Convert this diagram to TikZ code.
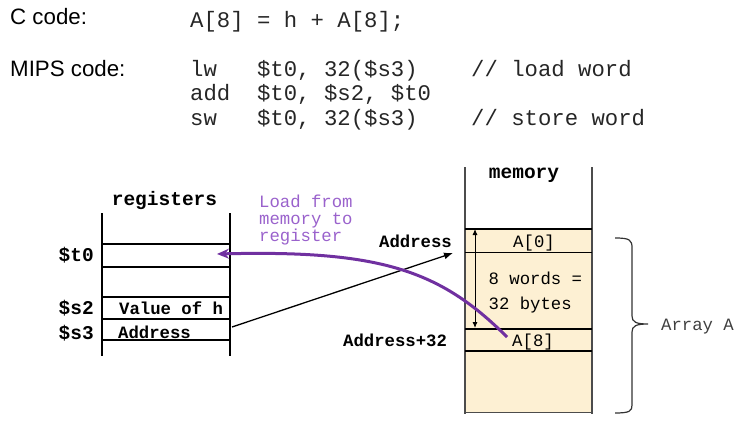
\documentclass[tikz,border=0pt]{standalone}
\usepackage{fontspec}
\setmainfont{Liberation Sans}
\newfontfamily\monof{Liberation Mono}
\usetikzlibrary{arrows.meta}
\definecolor{memfill}{HTML}{FDF0D3}
\definecolor{purtxt}{HTML}{9A62CC}
\definecolor{purarr}{HTML}{7030A0}
\definecolor{codetxt}{HTML}{262626}
\begin{document}
\frenchspacing
\begin{tikzpicture}[x=1pt,y=-1pt,
  head/.style={font=\fontsize{22.3}{24}\selectfont, inner sep=0pt, anchor=base west},
  code/.style={font=\monof\fontsize{22.3}{24}\selectfont, inner sep=0pt, anchor=base west, text=codetxt},
  lbl/.style={font=\monof\bfseries\fontsize{19.5}{22}\selectfont, inner sep=0pt},
  sm/.style={font=\monof\fontsize{17.3}{19}\selectfont, inner sep=0pt},
  smb/.style={font=\monof\bfseries\fontsize{17.3}{19}\selectfont, inner sep=0pt},
  regv/.style={line width=2pt},
  regh/.style={line width=1.3pt},
  memv/.style={line width=1.3pt, draw=black!70},
]
\useasboundingbox (0,0) rectangle (752,425);

% ---- code ----
\node[head] (ccode) at (10,25) {C code:};
\node[code] (cline) at (190,28) {A[8] = h + A[8];};
\node[head] (mips) at (10,77) {MIPS code:};
\node[code] (l1) at (190,77) {lw\ \ \ \$t0, 32(\$s3)\ \ \ \ // load word};
\node[code] (l2) at (190,101) {add\ \ \$t0, \$s2, \$t0};
\node[code] (l3) at (190,125) {sw\ \ \ \$t0, 32(\$s3)\ \ \ \ // store word};

% ---- registers ----
\draw[regv] (102,213) -- (102,356);
\draw[regv] (230,213) -- (230,356);
\foreach \yy in {244,267,297,319,340} \draw[regh] (102,\yy) -- (230,\yy);
\node[lbl, anchor=base] (regtitle) at (164.5,205) {registers};
\node[lbl, anchor=base east] (t0) at (94,261) {\$t0};
\node[lbl, anchor=base east] (s2) at (94,314) {\$s2};
\node[lbl, anchor=base east] (s3) at (94,339.5) {\$s3};
\node[smb, anchor=base west] (valh) at (119,314) {Value of h};
\node[smb, anchor=base west] (s3addr) at (118,338) {Address};

\node[sm, text=purtxt, anchor=base west] (p1) at (259,207) {Load from};
\node[sm, text=purtxt, anchor=base west] (p2) at (259,224.5) {memory to};
\node[sm, text=purtxt, anchor=base west] (p3) at (259,241) {register};

% ---- memory ----
\fill[memfill] (465,229) rectangle (592,412);
\draw[memv] (465,167) -- (465,414);
\draw[memv] (592,167) -- (592,414);
\draw[line width=1.3pt] (465,229) -- (592,229);
\draw[line width=1pt] (465,252) -- (592,252);
\draw[line width=2pt] (465,329) -- (592,329);
\draw[line width=2pt] (465,351) -- (592,351);
\draw[line width=1pt, draw=black!70] (465,412) -- (592,412);
\node[lbl, anchor=base] (memtitle) at (524,178) {memory};
\node[sm, anchor=base] (a0) at (534,247) {A[0]};
\node[sm, anchor=base west] (w1) at (488.5,284) {8 words =};
\node[sm, anchor=base west] (w2) at (488.5,309) {32 bytes};
\node[sm, anchor=base] (a8) at (533,346) {A[8]};
\node[smb, anchor=base east] (addr) at (452,247) {Address};
\node[smb, anchor=base west] (addr32) at (343,346) {Address+32};

\coordinate (dtop) at (475,229);
\coordinate (dbot) at (475,328);
\draw[{Latex[length=6pt,width=5pt]}-{Latex[length=6pt,width=5pt]}, line width=0.9pt] (dtop) -- (dbot);

% ---- brace ----
\draw[line width=1.2pt, draw=black!80]
  (615,238) .. controls (630,238) and (632,240) .. (632,248) -- (632,316)
  .. controls (632,322) and (636,324) .. (648,324)
  .. controls (636,324) and (632,326) .. (632,332) -- (632,405)
  .. controls (632,411) and (630,413) .. (615,413);
\node[sm, text=black!75, anchor=base west] (arr) at (661,330) {Array A};

% ---- connectors ----
\coordinate (s3p) at (232,327);
\coordinate (addrp) at (453,253);
\draw[-{Latex[length=9pt,width=7pt]}, line width=1.3pt] (s3p) -- (addrp);

\coordinate (a8p) at (507,337);
\coordinate (t0p) at (217,254);
\draw[purarr, line width=3pt, -{Stealth[length=12pt,width=10pt]}]
  (a8p) .. controls (440,270) and (380,250) .. (t0p);
\end{tikzpicture}
\end{document}
